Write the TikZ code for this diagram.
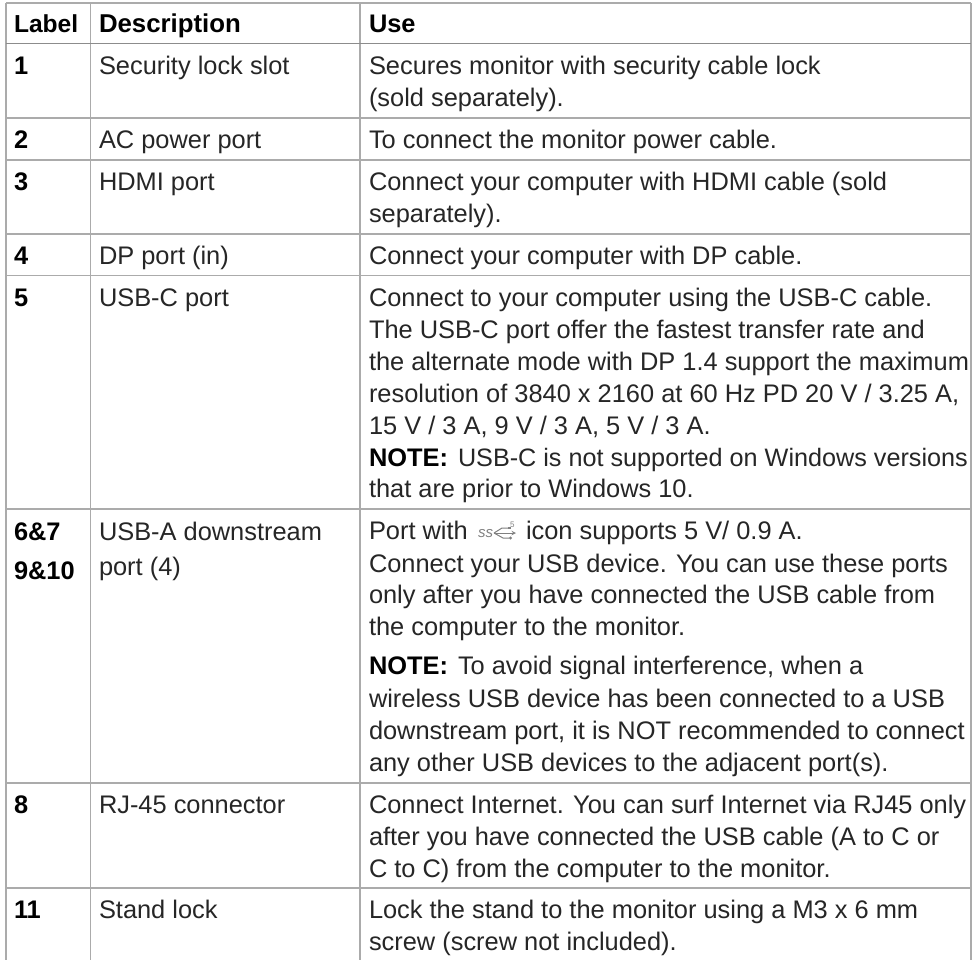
\documentclass[tikz,border=0pt]{standalone}
\usepackage{fontspec}
\setmainfont{Liberation Sans}
\definecolor{rulecol}{HTML}{ABABAB}
\definecolor{rulehead}{HTML}{8C8C8C}
\definecolor{ink}{HTML}{262626}
\definecolor{iconink}{HTML}{808080}
\tikzset{x=1pt,y=-1pt,
 rulev/.style={draw=rulecol,line width=1.4pt},
 ruleh/.style={draw=rulecol,line width=1.2pt},
 txt/.style={anchor=base west,inner sep=0pt,outer sep=0pt,text=ink,font=\fontsize{25.4}{28}\selectfont},
 bld/.style={txt,text=black,font=\fontsize{25.4}{28}\selectfont\bfseries}}
\begin{document}
\begin{tikzpicture}
\useasboundingbox[fill=white] (0,0) rectangle (977,960);
\draw[rulev] (6,3) -- (6,960);
\draw[rulev] (90.7,3) -- (90.7,960);
\draw[rulev] (360,3) -- (360,960);
\draw[rulev] (971,3) -- (971,960);
\foreach \yy in {3,118,160,234,275.5,509,783,888} \draw[ruleh] (6,\yy) -- (971,\yy);
\draw[draw=rulehead,line width=1pt] (6,44) -- (971,44);
% header
\node[bld,font=\fontsize{24.6}{28}\selectfont\bfseries] (h1) at (14,33) {Label};
\node[bld,font=\fontsize{25.8}{28}\selectfont\bfseries] (h2) at (99,33) {Description};
\node[bld] (h3) at (369,33) {Use};
% row 1
\node[bld] (l1) at (14,74.5) {1};
\node[txt] (d1) at (99,74.5) {Security lock slot};
\node[txt] (u1a) at (369,74.5) {Secures monitor with security cable lock};
\node[txt] (u1b) at (369,107) {(sold separately).};
% row 2
\node[bld] (l2) at (14,149) {2};
\node[txt] (d2) at (99,149) {AC power port};
\node[txt] (u2) at (369,149) {To connect the monitor power cable.};
% row 3
\node[bld] (l3) at (14,190.5) {3};
\node[txt] (d3) at (99,190.5) {HDMI port};
\node[txt] (u3a) at (369,190.5) {Connect your computer with HDMI cable (sold};
\node[txt] (u3b) at (369,222.5) {separately).};
% row 4
\node[bld] (l4) at (14,264) {4};
\node[txt] (d4) at (99,264) {DP port (in)};
\node[txt] (u4) at (369,264) {Connect your computer with DP cable.};
% row 5
\node[bld] (l5) at (14,306) {5};
\node[txt] (d5) at (99,306) {USB-C port};
\node[txt] (u5a) at (369,306) {Connect to your computer using the USB-C cable.};
\node[txt] (u5b) at (369,338) {The USB-C port offer the fastest transfer rate and};
\node[txt] (u5c) at (369,370) {the alternate mode with DP 1.4 support the maximum};
\node[txt] (u5d) at (369,402) {resolution of 3840 x 2160 at 60 Hz PD 20 V / 3.25 A,};
\node[txt] (u5e) at (369,434) {15 V / 3 A, 9 V / 3 A, 5 V / 3 A.};
\node[bld] (u5f) at (369,466) {NOTE:};
\node[txt,font=\fontsize{25.2}{28}\selectfont] (u5g) at (458,466) {USB-C is not supported on Windows versions};
\node[txt] (u5h) at (369,497) {that are prior to Windows 10.};
% row 6
\node[bld] (l6a) at (14,540) {6\&7};
\node[bld] (l6b) at (14,579) {9\&10};
\node[txt] (d6a) at (99,540) {USB-A downstream};
\node[txt] (d6b) at (99,575) {port (4)};
\node[txt] (u6a) at (369,539.5) {Port with};
\node[txt,text=iconink,font=\fontsize{15}{16}\selectfont\itshape] (icss) at (478,537) {ss};
\coordinate (ica) at (494,533); \coordinate (icb) at (516,533);
\draw[iconink,line width=1pt,-stealth] (ica) -- (icb);
\draw[iconink,line width=1pt] (ica) -- (502,528) -- (508,528);
\draw[iconink,line width=1pt] (ica) -- (503,538) -- (509,538);
\fill[iconink] (508,526.6) rectangle (510.8,529.4);
\fill[iconink] (510.5,538) circle (1.6);
\node[txt,text=iconink,font=\fontsize{8}{9}\selectfont] (ic5) at (510,527) {5};
\node[txt] (u6b) at (526,539.5) {icon supports 5 V/ 0.9 A.};
\node[txt] (u6c) at (369,572) {Connect your USB device. You can use these ports};
\node[txt] (u6d) at (369,603.5) {only after you have connected the USB cable from};
\node[txt] (u6e) at (369,635) {the computer to the monitor.};
\node[bld] (u6f) at (369,674) {NOTE:};
\node[txt] (u6g) at (458,674) {To avoid signal interference, when a};
\node[txt] (u6h) at (369,707) {wireless USB device has been connected to a USB};
\node[txt] (u6i) at (369,739) {downstream port, it is NOT recommended to connect};
\node[txt] (u6j) at (369,771) {any other USB devices to the adjacent port(s).};
% row 8
\node[bld] (l8) at (14,813.5) {8};
\node[txt] (d8) at (99,813.5) {RJ-45 connector};
\node[txt] (u8a) at (369,813.5) {Connect Internet. You can surf Internet via RJ45 only};
\node[txt] (u8b) at (369,845) {after you have connected the USB cable (A to C or};
\node[txt] (u8c) at (369,877) {C to C) from the computer to the monitor.};
% row 11
\node[bld] (l11) at (14,918.5) {11};
\node[txt] (d11) at (99,918.5) {Stand lock};
\node[txt] (u11a) at (369,918.5) {Lock the stand to the monitor using a M3 x 6 mm};
\node[txt] (u11b) at (369,950) {screw (screw not included).};
\end{tikzpicture}
\end{document}
